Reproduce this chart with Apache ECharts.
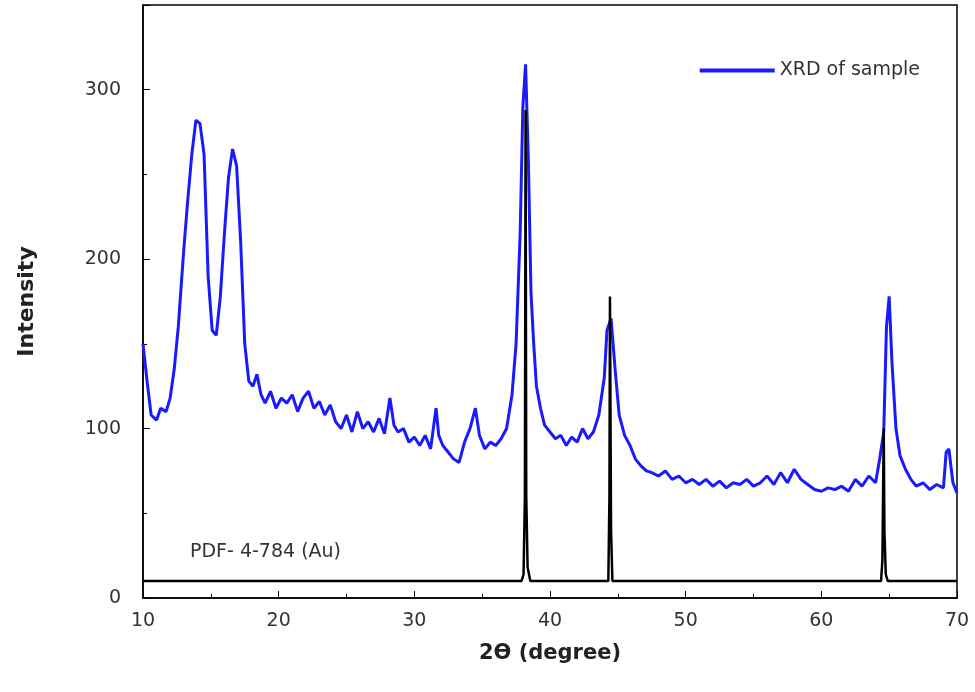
<!DOCTYPE html>
<html>
<head>
<meta charset="utf-8">
<script src="https://cdn.jsdelivr.net/npm/echarts@6/dist/echarts.min.js"></script>
<style>body{margin:0;background:#fff}#main{width:975px;height:692px}</style>
</head>
<body>
<div id="main"></div>
<script>
// sample pattern (2theta, intensity)
var sampleX = [10,10.3,10.6,11,11.3,11.7,12,12.3,12.6,13,13.3,13.6,13.9,14.2,14.5,14.8,15.1,15.4,15.7,16,16.3,16.6,16.9,17.2,17.5,17.8,18.1,18.4,18.7,19,19.4,19.8,20.2,20.6,21,21.4,21.8,22.2,22.6,23,23.4,23.8,24.2,24.6,25,25.4,25.8,26.2,26.6,27,27.4,27.8,28.2,28.5,28.8,29.2,29.6,30,30.4,30.8,31.2,31.6,31.8,32.1,32.5,32.9,33.3,33.7,34.1,34.5,34.8,35.2,35.6,36,36.4,36.8,37.2,37.5,37.8,38,38.2,38.4,38.6,38.8,39,39.3,39.6,40,40.4,40.8,41.2,41.6,42,42.4,42.8,43.2,43.6,44,44.2,44.5,44.8,45.1,45.5,45.9,46.3,46.7,47.1,47.5,48,48.5,49,49.5,50,50.5,51,51.5,52,52.5,53,53.5,54,54.5,55,55.5,56,56.5,57,57.5,58,58.5,59,59.5,60,60.5,61,61.5,62,62.5,63,63.5,64,64.3,64.6,64.8,65,65.2,65.5,65.8,66.2,66.6,67,67.5,68,68.5,69,69.2,69.4,69.7,70];
var sampleY = [150,128,108,105,112,110,118,135,160,205,235,262,282,280,262,190,158,155,178,215,248,265,255,210,150,128,125,132,120,115,122,112,118,115,120,110,118,122,112,116,108,114,104,100,108,98,110,100,104,98,106,97,118,102,98,100,92,95,90,96,88,112,96,90,86,82,80,92,100,112,96,88,92,90,94,100,120,150,215,290,315,260,180,150,125,112,102,98,94,96,90,95,92,100,94,98,108,130,158,165,135,108,96,90,82,78,75,74,72,75,70,72,68,70,67,70,66,69,65,68,67,70,66,68,72,67,74,68,76,70,67,64,63,65,64,66,63,70,66,72,68,82,98,160,178,140,100,84,76,70,66,68,64,67,65,86,88,68,62];
// PDF 4-784 (Au) reference pattern
var refX = [10,37.9,38.05,38.15,38.2,38.25,38.35,38.55,44.3,44.38,44.42,44.5,44.6,64.4,64.5,64.6,64.65,64.75,64.9,70];
var refY = [10,10,14,60,288,60,18,10,10,60,178,40,10,10,22,100,40,14,10,10];
var yTicks = [0, 100, 200, 300];

function pairs(xs, ys){ return xs.map(function(x,i){ return [x, ys[i]]; }); }

var chart = echarts.init(document.getElementById('main'));
var font = 'DejaVu Sans';
chart.setOption({
  animation: false,
  grid: {left:143, right:18, top:5, bottom:94, show:true, borderColor:'#000', borderWidth:1.5},
  legend: {
    data:['XRD of sample'], right:50, top:56, itemWidth:75, itemHeight:4,
    icon:'rect', textStyle:{fontFamily:font, fontSize:19, color:'#333'}
  },
  xAxis: {
    type:'value', min:10, max:70, interval:10,
    name:'2ϴ (degree)', nameLocation:'middle', nameGap:45,
    nameTextStyle:{fontFamily:font, fontSize:21, fontWeight:'bold', color:'#222'},
    axisLine:{lineStyle:{color:'#000', width:1.5}},
    axisTick:{inside:true, length:7, lineStyle:{color:'#000'}},
    minorTick:{show:true, splitNumber:2, length:4, lineStyle:{color:'#000'}},
    splitLine:{show:false},
    axisLabel:{fontFamily:font, fontSize:19, color:'#333', margin:14}
  },
  yAxis: {
    type:'value', min:0, max:350, interval:100,
    name:'Intensity', nameLocation:'middle', nameGap:105,
    nameTextStyle:{fontFamily:font, fontSize:22, fontWeight:'bold', color:'#222'},
    axisLine:{lineStyle:{color:'#000', width:1.5}},
    axisTick:{inside:true, length:7, lineStyle:{color:'#000'}},
    minorTick:{show:true, splitNumber:2, length:4, lineStyle:{color:'#000'}},
    splitLine:{show:false},
    axisLabel:{fontFamily:font, fontSize:19, color:'#333', margin:22,
      formatter:function(v){ return yTicks.indexOf(v) >= 0 ? String(v) : ''; }}
  },
  graphic: [{
    type:'text', left:190, top:543,
    style:{text:'PDF- 4-784 (Au)', font:'19px "DejaVu Sans"', fill:'#333'}
  }],
  series: [
    {name:'XRD of sample', type:'line', data:pairs(sampleX, sampleY), showSymbol:false,
     color:'#1a1aff', lineStyle:{width:3, color:'#1a1aff'}},
    {name:'PDF', type:'line', data:pairs(refX, refY), showSymbol:false,
     color:'#000', lineStyle:{width:2.5, color:'#000'}, z:3}
  ]
});
</script>
</body>
</html>
